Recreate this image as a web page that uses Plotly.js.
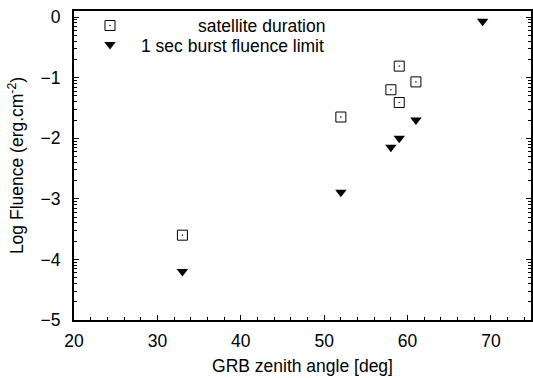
<!DOCTYPE html>
<html>
<head>
<meta charset="utf-8">
<script src="https://cdn.plot.ly/plotly-3.0.1.min.js"></script>
<style>html,body{margin:0;padding:0;background:#fff;}#chart{width:533px;height:378px;}</style>
</head>
<body>
<div id="chart"></div>
<script>
// Data
const satAngle = [33, 52, 58, 59, 59, 61];
const satLogFluence = [-3.60, -1.65, -1.20, -0.81, -1.41, -1.07];
const burstAngle = [33, 52, 58, 59, 61, 69];
const burstLogFluence = [-4.20, -2.89, -2.15, -2.00, -1.70, -0.07];
const seriesNames = ["satellite duration", "1 sec burst fluence limit"];
const xTickVals = [20, 30, 40, 50, 60, 70];
const yTickVals = [-5, -4, -3, -2, -1, 0];

// log-style minor ticks on the log-fluence axis
const yMinor = [];
for (let n = -5; n < 0; n++) {
  for (let k = 2; k <= 9; k++) yMinor.push(n + Math.log10(k));
}

const font = {family: "Liberation Sans, Arial, Helvetica, sans-serif", size: 17.5, color: "#000"};

const traces = [
  {
    x: satAngle, y: satLogFluence, type: "scatter", mode: "markers",
    name: "\u00a0", hovertext: seriesNames[0],
    marker: {symbol: "square-open-dot", size: 10, color: "#000", line: {width: 1, color: "#000"}}
  },
  {
    x: burstAngle, y: burstLogFluence, type: "scatter", mode: "markers",
    name: "\u00a0\u00a0", hovertext: seriesNames[1],
    marker: {symbol: "triangle-down", size: 10, color: "#000", line: {width: 0}}
  }
];

const layout = {
  width: 533, height: 378,
  margin: {l: 74, r: 2, t: 11, b: 58},
  paper_bgcolor: "#fff", plot_bgcolor: "#fff",
  font: font,
  showlegend: true,
  legend: {x: 0.035, y: 1.0, xanchor: "left", yanchor: "top", bgcolor: "rgba(0,0,0,0)",
           font: {family: font.family, size: 12, color: "#000"}, tracegroupgap: 0, itemwidth: 30},
  xaxis: {
    range: [20, 74.8], tickmode: "array", tickvals: xTickVals,
    ticks: "inside", ticklen: 5, tickwidth: 1, tickcolor: "#000",
    showline: true, linewidth: 2, linecolor: "#000", mirror: true,
    showgrid: false, zeroline: false,
    tickfont: font, ticklabelstandoff: 4,
    minor: {dtick: 2, ticks: "inside", ticklen: 3, tickwidth: 1, tickcolor: "#000", showgrid: false},
    title: {text: "GRB zenith angle [deg]", font: font, standoff: 10}
  },
  yaxis: {
    range: [-5, 0.1], tickmode: "array", tickvals: yTickVals,
    ticks: "inside", ticklen: 5, tickwidth: 1, tickcolor: "#000",
    showline: true, linewidth: 2, linecolor: "#000", mirror: "ticks",
    showgrid: false, zeroline: false,
    tickfont: font, ticklabelstandoff: 8,
    minor: {tickmode: "array", tickvals: yMinor, ticks: "inside", ticklen: 3, tickwidth: 1, tickcolor: "#000", showgrid: false},
    title: {text: "Log Fluence (erg.cm<sup>-2</sup>)", font: font, standoff: 12}
  },
  annotations: [
    {xref: "paper", yref: "paper", x: 0.554, y: 0.951, xanchor: "right", yanchor: "middle",
     text: seriesNames[0], showarrow: false, font: font},
    {xref: "paper", yref: "paper", x: 0.552, y: 0.887, xanchor: "right", yanchor: "middle",
     text: seriesNames[1], showarrow: false, font: font}
  ]
};

Plotly.newPlot("chart", traces, layout, {displayModeBar: false, staticPlot: true});
</script>
</body>
</html>
